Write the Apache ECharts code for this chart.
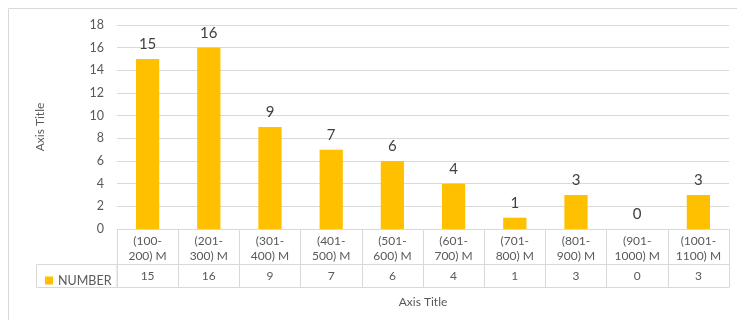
<!DOCTYPE html>
<html>
<head>
<meta charset="utf-8">
<script src="https://cdn.jsdelivr.net/npm/echarts@6/dist/echarts.min.js"></script>
<style>
  html, body { margin: 0; padding: 0; background: #ffffff; }
  #chart { width: 737px; height: 320px; }
</style>
</head>
<body>
<div id="chart"></div>
<script>
// Size ranges (bins) and how many items fall into each
const categories = [
  '(100-\n200) M', '(201-\n300) M', '(301-\n400) M', '(401-\n500) M', '(501-\n600) M',
  '(601-\n700) M', '(701-\n800) M', '(801-\n900) M', '(901-\n1000) M', '(1001-\n1100) M'
];
const counts = [15, 16, 9, 7, 6, 4, 1, 3, 0, 3];
const seriesName = 'NUMBER';
const yTicks = { min: 0, max: 18, interval: 2 };

const FONT = 'Lato, "Open Sans", sans-serif';
const GRID_COLOR = '#d9d9d9';
const TEXT_COLOR = '#595959';
const BAR_COLOR = '#FFC000';

const chart = echarts.init(document.getElementById('chart'), null, { renderer: 'canvas' });

chart.setOption({
  animation: false,
  textStyle: { fontFamily: FONT },
  grid: { left: 117, right: 8, top: 25, bottom: 91, containLabel: false },
  legend: {
    data: [seriesName],
    left: 40, top: 269,
    itemWidth: 8, itemHeight: 8,
    icon: 'rect',
    textStyle: { fontSize: 12.5, color: TEXT_COLOR, fontFamily: FONT },
    itemGap: 5
  },
  xAxis: [
    {
      // header row of the data table: category names
      type: 'category',
      data: categories,
      position: 'bottom',
      axisLine: { show: true, lineStyle: { color: GRID_COLOR, width: 1 } },
      axisTick: { show: true, length: 58, alignWithLabel: false, lineStyle: { color: GRID_COLOR } },
      axisLabel: { interval: 0, fontSize: 12, color: TEXT_COLOR, lineHeight: 15, margin: 5, fontFamily: FONT },
      splitLine: { show: false }
    },
    {
      // value row of the data table
      type: 'category',
      data: counts.map(String),
      position: 'bottom',
      offset: 35,
      axisLine: { show: true, lineStyle: { color: GRID_COLOR, width: 1 } },
      axisTick: { show: false },
      axisLabel: { interval: 0, fontSize: 12, color: TEXT_COLOR, margin: 6, fontFamily: FONT },
      splitLine: { show: false }
    },
    {
      // bottom edge of the table plus the horizontal axis title
      type: 'category',
      data: categories,
      position: 'bottom',
      offset: 58,
      axisLine: { show: true, lineStyle: { color: GRID_COLOR, width: 1 } },
      axisTick: { show: false },
      axisLabel: { show: false },
      name: 'Axis Title',
      nameLocation: 'middle',
      nameGap: 9,
      nameTextStyle: { fontSize: 12, color: TEXT_COLOR, fontFamily: FONT }
    }
  ],
  yAxis: {
    type: 'value',
    min: yTicks.min, max: yTicks.max, interval: yTicks.interval,
    axisLine: { show: false },
    axisTick: { show: false },
    axisLabel: { fontSize: 12.5, color: TEXT_COLOR, margin: 13, fontFamily: FONT },
    splitLine: { show: true, lineStyle: { color: GRID_COLOR, width: 1 } },
    name: 'Axis Title',
    nameLocation: 'middle',
    nameGap: 71,
    nameTextStyle: { fontSize: 12, color: TEXT_COLOR, fontFamily: FONT }
  },
  series: [{
    name: seriesName,
    type: 'bar',
    data: counts,
    xAxisIndex: 0,
    barWidth: '38%',
    itemStyle: { color: BAR_COLOR },
    label: {
      show: true, position: 'top', distance: 7,
      fontSize: 15, color: '#404040', fontFamily: FONT
    }
  }],
  graphic: [
    // chart frame
    { type: 'rect', silent: true, z: -1,
      shape: { x: 8.5, y: 8.5, width: 740, height: 330 },
      style: { fill: 'none', stroke: GRID_COLOR, lineWidth: 1 } },
    // legend cell of the data table
    { type: 'rect', silent: true,
      shape: { x: 36.5, y: 264.5, width: 80.5, height: 23 },
      style: { fill: 'none', stroke: GRID_COLOR, lineWidth: 1 } }
  ]
});
</script>
</body>
</html>
